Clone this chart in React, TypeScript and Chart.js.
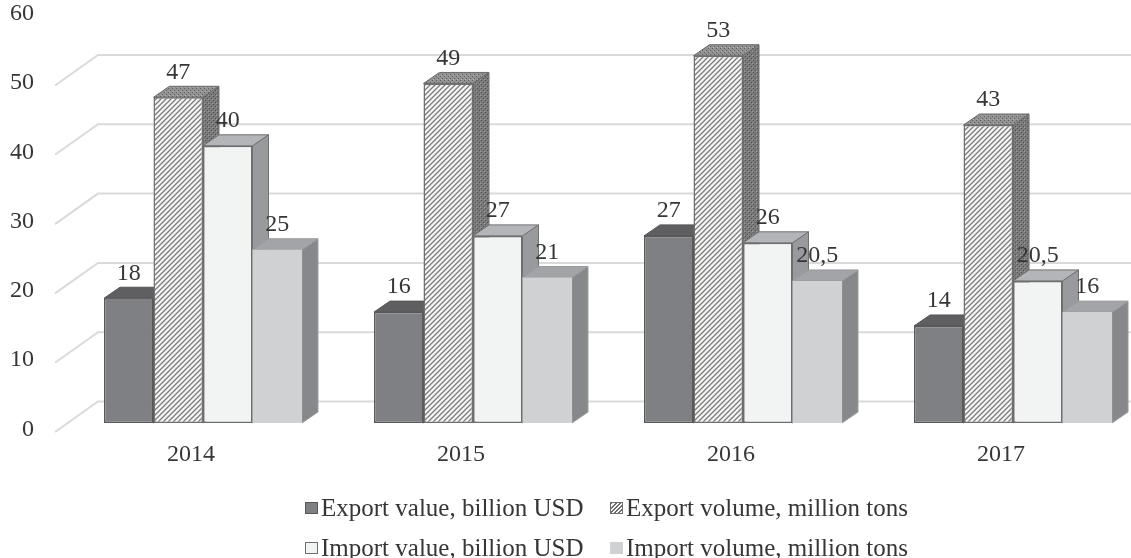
import { useEffect, useRef } from 'react';
import { Chart, registerables } from 'chart.js';

Chart.register(...registerables);

const categories = ['2014', '2015', '2016', '2017'];
const exportValue = [18, 16, 27, 14];
const exportVolume = [47, 49, 53, 43];
const importValue = [40, 27, 26, 20.5];
const importVolume = [25, 21, 20.5, 16];
const yTicks = [0, 10, 20, 30, 40, 50, 60];
const seriesNames = [
  'Export value, billion USD',
  'Export volume, million tons',
  'Import value, billion USD',
  'Import volume, million tons',
];

const FONT = "'Liberation Serif', 'Times New Roman', serif";
const TEXT = '#363636';
const DX = 16;
const DY = -11;

function fmt(v: number) {
  return String(v).replace('.', ',');
}

function makePattern(
  ctx: CanvasRenderingContext2D,
  size: number,
  bg: string,
  draw: (g: CanvasRenderingContext2D) => void
) {
  const c = document.createElement('canvas');
  c.width = size;
  c.height = size;
  const g = c.getContext('2d')!;
  g.fillStyle = bg;
  g.fillRect(0, 0, size, size);
  draw(g);
  return ctx.createPattern(c, 'repeat')!;
}

export default function App() {
  const ref = useRef<HTMLCanvasElement | null>(null);

  useEffect(() => {
    const canvas = ref.current!;
    const ctx0 = canvas.getContext('2d')!;

    const hatch = makePattern(ctx0, 5, '#f5f5f5', (g) => {
      g.strokeStyle = '#7c7c7c';
      g.lineWidth = 1.3;
      g.beginPath();
      g.moveTo(0, 5);
      g.lineTo(5, 0);
      g.moveTo(-1, 1);
      g.lineTo(1, -1);
      g.moveTo(4, 6);
      g.lineTo(6, 4);
      g.stroke();
    });
    const dotsTop = makePattern(ctx0, 4, '#929292', (g) => {
      g.fillStyle = '#5e5e5e';
      g.fillRect(0, 0, 1, 1);
      g.fillRect(2, 2, 1, 1);
      g.fillStyle = '#b4b4b4';
      g.fillRect(1, 3, 1, 1);
    });
    const dotsSide = makePattern(ctx0, 4, '#7b7b7b', (g) => {
      g.fillStyle = '#4f4f4f';
      g.fillRect(1, 0, 1, 1);
      g.fillRect(3, 2, 1, 1);
      g.fillStyle = '#9d9d9d';
      g.fillRect(0, 3, 1, 1);
    });

    const faces = [
      { top: '#5f5f61', side: '#4e4e50', edge: '#555557' },
      { top: dotsTop, side: dotsSide, edge: '#6a6a6a' },
      { top: '#b4b5b8', side: '#999a9d', edge: '#707072' },
      { top: '#a3a4a7', side: '#87888b', edge: '#9a9b9e' },
    ];

    const threeD = {
      id: 'threeD',
      beforeDatasetsDraw(chart: any) {
        const ctx: CanvasRenderingContext2D = chart.ctx;
        const ys = chart.scales.y;
        const area = chart.chartArea;
        ctx.save();
        // back wall gridlines
        ctx.strokeStyle = '#dadada';
        ctx.lineWidth = 2;
        yTicks.slice(0, -1).forEach((v) => {
          const yf = ys.getPixelForValue(v);
          ctx.beginPath();
          ctx.moveTo(area.left, yf + 9);
          ctx.lineTo(area.left + 43, yf - 21.5);
          ctx.lineTo(area.right, yf - 21.5);
          ctx.stroke();
        });
        // bars, left to right within each group
        const metas = chart.data.datasets.map((_: any, i: number) => chart.getDatasetMeta(i));
        for (let j = 0; j < categories.length; j++) {
          metas.forEach((meta: any, i: number) => {
            const el = meta.data[j];
            if (!el) return;
            const { x, y, base, width } = el.getProps(['x', 'y', 'base', 'width'], true);
            const x0 = x - width / 2;
            const x1 = x + width / 2;
            const f = faces[i];
            ctx.lineWidth = 1;
            ctx.strokeStyle = f.edge;
            ctx.beginPath();
            ctx.moveTo(x1, y);
            ctx.lineTo(x1 + DX, y + DY);
            ctx.lineTo(x1 + DX, base + DY);
            ctx.lineTo(x1, base);
            ctx.closePath();
            ctx.fillStyle = f.side as any;
            ctx.fill();
            ctx.stroke();
            ctx.beginPath();
            ctx.moveTo(x0, y);
            ctx.lineTo(x0 + DX, y + DY);
            ctx.lineTo(x1 + DX, y + DY);
            ctx.lineTo(x1, y);
            ctx.closePath();
            ctx.fillStyle = f.top as any;
            ctx.fill();
            ctx.stroke();
            el.draw(ctx);
          });
        }
        ctx.restore();
        return false;
      },
      afterDraw(chart: any) {
        const ctx: CanvasRenderingContext2D = chart.ctx;
        ctx.save();
        ctx.font = `24px ${FONT}`;
        ctx.fillStyle = TEXT;
        ctx.textAlign = 'center';
        ctx.textBaseline = 'middle';
        chart.data.datasets.forEach((ds: any, i: number) => {
          const meta = chart.getDatasetMeta(i);
          meta.data.forEach((el: any, j: number) => {
            const { x, y } = el.getProps(['x', 'y'], true);
            ctx.fillText(fmt(ds.data[j].y), x, y - 25);
          });
        });
        ctx.restore();
      },
    };

    const toXY = (arr: number[]) => arr.map((v, i) => ({ x: i, y: v }));

    const chart = new Chart(canvas, {
      type: 'bar',
      data: {
        datasets: [
          {
            label: seriesNames[0],
            data: toXY(exportValue),
            backgroundColor: '#7f8084',
            borderColor: '#58585a',
            borderWidth: 1.5,
            borderSkipped: false,
          },
          {
            label: seriesNames[1],
            data: toXY(exportVolume),
            backgroundColor: hatch,
            borderColor: '#6e6e6e',
            borderWidth: 1.5,
            borderSkipped: false,
          },
          {
            label: seriesNames[2],
            data: toXY(importValue),
            backgroundColor: '#f2f3f3',
            borderColor: '#6d6d6f',
            borderWidth: 1.5,
            borderSkipped: false,
          },
          {
            label: seriesNames[3],
            data: toXY(importVolume),
            backgroundColor: '#d0d1d3',
            borderColor: '#d0d1d3',
            borderWidth: 0,
            borderSkipped: false,
          },
        ] as any,
      },
      options: {
        animation: false,
        responsive: false,
        events: [],
        layout: { padding: { top: 7.2, right: 0, bottom: 0, left: 0 } },
        datasets: { bar: { categoryPercentage: 0.7333, barPercentage: 1 } } as any,
        plugins: {
          legend: { display: false },
          tooltip: { enabled: false },
        },
        scales: {
          x: {
            type: 'linear',
            offset: false,
            min: -0.548,
            max: 3.437,
            afterBuildTicks: (s: any) => {
              s.ticks = categories.map((_, i) => ({ value: i }));
            },
            afterFit: (s: any) => {
              s.height = 135;
              s.paddingLeft = 0;
              s.paddingRight = 0;
            },
            grid: { display: false, drawTicks: false },
            border: { display: false },
            ticks: {
              autoSkip: false,
              maxRotation: 0,
              padding: 17.6,
              labelOffset: -12,
              color: TEXT,
              font: { family: FONT, size: 24 },
              callback: (v: any) => categories[v as number],
            },
          },
          y: {
            type: 'linear',
            min: 0,
            max: 60,
            afterBuildTicks: (s: any) => {
              s.ticks = yTicks.map((v) => ({ value: v }));
            },
            afterFit: (s: any) => {
              s.width = 55;
              s.paddingTop = 0;
              s.paddingBottom = 0;
            },
            grid: { display: false, drawTicks: false },
            border: { display: false },
            ticks: {
              padding: 21,
              labelOffset: 6.5,
              color: TEXT,
              font: { family: FONT, size: 24 },
            },
          },
        } as any,
      },
      plugins: [threeD as any],
    });
    return () => chart.destroy();
  }, []);

  const swatches: React.CSSProperties[] = [
    { background: '#7f8084', border: '1px solid #58585a' },
    {
      background: 'repeating-linear-gradient(-45deg, #f5f5f5 0px, #f5f5f5 1.5px, #6e6e6e 1.5px, #6e6e6e 3px)',
      border: '1px solid #6e6e6e',
    },
    { background: '#f2f3f3', border: '1px solid #6d6d6f' },
    { background: '#d0d1d3', border: '1px solid #d0d1d3' },
  ];
  const legendPos = [
    { left: 305, top: 508 },
    { left: 610, top: 508 },
    { left: 305, top: 548 },
    { left: 610, top: 548 },
  ];

  return (
    <div style={{ position: 'absolute', left: 0, top: 0, width: 1131, height: 558, background: '#fff', overflow: 'hidden' }}>
      <canvas ref={ref} width={1131} height={558} style={{ width: 1131, height: 558, display: 'block' }} />
      {seriesNames.map((name, i) => (
        <div
          key={name}
          style={{
            position: 'absolute',
            left: legendPos[i].left,
            top: legendPos[i].top - 14,
            height: 28,
            display: 'flex',
            alignItems: 'center',
            whiteSpace: 'nowrap',
            fontFamily: FONT,
            fontSize: 25,
            color: TEXT,
          }}
        >
          <span style={{ display: 'inline-block', width: 13, height: 12, boxSizing: 'border-box', marginRight: 3, ...swatches[i] }} />
          <span>{name}</span>
        </div>
      ))}
    </div>
  );
}
